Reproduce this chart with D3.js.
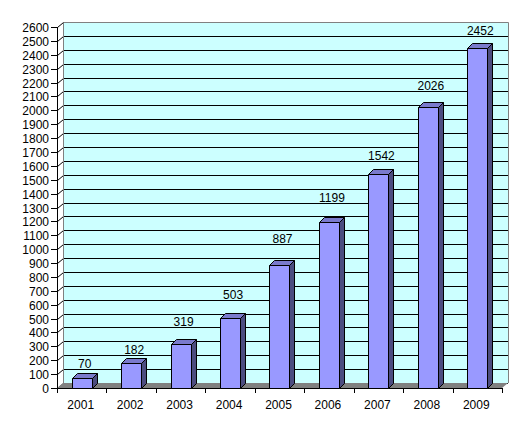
<!DOCTYPE html>
<html><head><meta charset="utf-8">
<script src="https://cdn.jsdelivr.net/npm/d3@7"></script>
<style>html,body{margin:0;padding:0;background:#fff}svg{display:block}</style>
</head><body>
<script>
const years = ["2001","2002","2003","2004","2005","2006","2007","2008","2009"];
const values = [70,182,319,503,887,1199,1542,2026,2452];
const yTicks = d3.range(0, 2601, 100);

const W = 527, H = 432;
const svg = d3.select("body").append("svg").attr("width", W).attr("height", H)
  .style("font-family", "'Liberation Sans', Arial, sans-serif");

const x0 = 57, x1 = 502;
const DX = 6, DY = -5;      // wall depth
const BDX = 5, BDY = -5;    // bar depth
const x = d3.scaleBand().domain(years).range([x0, x1]).paddingInner(0.595).paddingOuter(0.2975);
const y = d3.scaleLinear().domain([0, 2600]).range([388, 27]);
const step = x.step();

// back wall
svg.append("rect").attr("x", x0 + DX).attr("y", y(2600) + DY)
  .attr("width", x1 - x0).attr("height", y(0) - y(2600)).attr("fill", "#CCFFFF");

// gridlines on back wall and left wall
const g = svg.append("g").attr("stroke", "#000").attr("stroke-width", 1).attr("fill", "none");
yTicks.forEach(t => {
  const yy = Math.round(y(t)) + 0.5;
  g.append("line").attr("x1", x0 + DX).attr("x2", x1 + DX).attr("y1", yy + DY).attr("y2", yy + DY);
  g.append("line").attr("x1", x0 + 0.5).attr("x2", x0 + DX + 0.5).attr("y1", yy).attr("y2", yy + DY);
});

// floor
svg.append("polygon")
  .attr("points", [[x0, y(0)], [x0 + DX, y(0) + DY], [x1 + DX, y(0) + DY], [x1, y(0)]].map(p => p.join(",")).join(" "))
  .attr("fill", "#808080");

// wall borders
svg.append("path")
  .attr("d", `M${x0 + DX + 0.5},${y(0) + DY}V${Math.round(y(2600) + DY) + 0.5}H${x1 + DX + 0.5}V${y(0) + DY}`)
  .attr("fill", "none").attr("stroke", "#808080");

// y axis
const ya = svg.append("g");
ya.append("line").attr("x1", x0 + 0.5).attr("x2", x0 + 0.5).attr("y1", y(2600)).attr("y2", y(0) + 1).attr("stroke", "#000");
yTicks.forEach(t => {
  const yy = Math.round(y(t)) + 0.5;
  ya.append("line").attr("x1", x0 - 6).attr("x2", x0).attr("y1", yy).attr("y2", yy).attr("stroke", "#000");
  ya.append("text").attr("x", x0 - 8).attr("y", yy + 4.5).attr("text-anchor", "end")
    .attr("font-size", 12).attr("fill", "#000").text(t);
});

// x axis
const xa = svg.append("g");
xa.append("line").attr("x1", x0).attr("x2", x1 + 1).attr("y1", Math.round(y(0)) + 0.5).attr("y2", Math.round(y(0)) + 0.5).attr("stroke", "#000");
d3.range(years.length + 1).forEach(i => {
  const xx = Math.round(x0 + i * step) + 0.5;
  xa.append("line").attr("x1", xx).attr("x2", xx).attr("y1", y(0)).attr("y2", y(0) + 5).attr("stroke", "#000");
});
years.forEach(yr => {
  xa.append("text").attr("x", x(yr) + x.bandwidth() / 2 - 1).attr("y", 409)
    .attr("text-anchor", "middle").attr("font-size", 12).attr("fill", "#000").text(yr);
});

// bars
const bars = svg.append("g").attr("stroke", "#000").attr("stroke-width", 1).attr("stroke-linejoin", "round");
years.forEach((yr, i) => {
  const bx = Math.round(x(yr)) + 0.5, bw = Math.round(x.bandwidth());
  const yt = Math.round(y(values[i])) + 0.5, yb = Math.round(y(0)) + 0.5;
  const pts = a => a.map(p => p.join(",")).join(" ");
  bars.append("polygon").attr("fill", "#4C4C80")
    .attr("points", pts([[bx + bw, yt], [bx + bw + BDX, yt + BDY], [bx + bw + BDX, yb + BDY], [bx + bw, yb]]));
  bars.append("polygon").attr("fill", "#7A7ACC")
    .attr("points", pts([[bx, yt], [bx + BDX, yt + BDY], [bx + bw + BDX, yt + BDY], [bx + bw, yt]]));
  bars.append("rect").attr("fill", "#9999FF").attr("x", bx).attr("y", yt).attr("width", bw).attr("height", yb - yt);
});

// value labels: placed above the bar, snapped to sit between back-wall gridlines
years.forEach((yr, i) => {
  const target = y(values[i]) - 14 - DY;            // in front-scale coordinates
  const snapped = Math.round(y.invert(target) / 100) * 100;
  const base = Math.round(y(snapped) + DY) - 1;
  svg.append("text").attr("x", x(yr) + x.bandwidth() / 2 + 3).attr("y", base)
    .attr("text-anchor", "middle").attr("font-size", 12).attr("fill", "#000").text(values[i]);
});
</script>
</body></html>
